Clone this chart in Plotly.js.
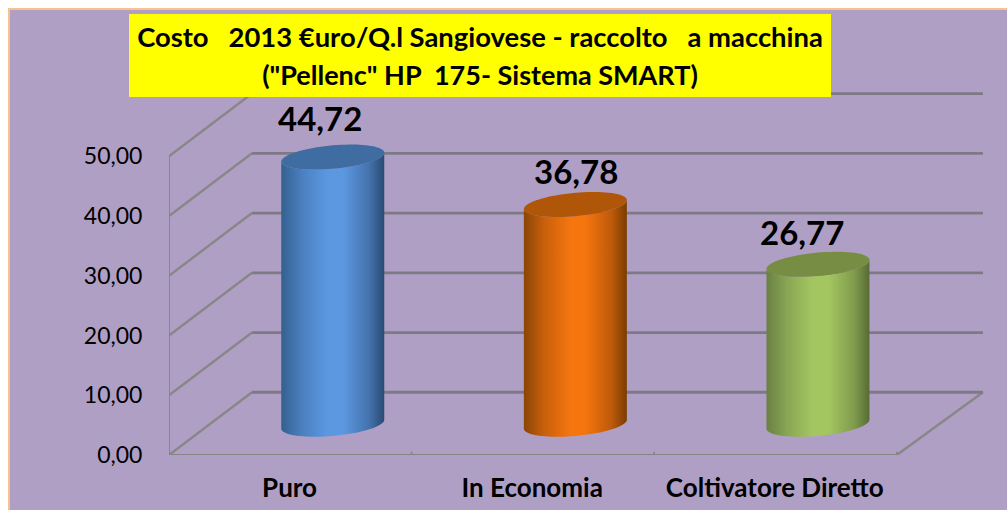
<!DOCTYPE html>
<html>
<head>
<meta charset="utf-8">
<script src="https://cdn.plot.ly/plotly-3.0.1.min.js"></script>
<style>
html,body{margin:0;padding:0;background:#fff;overflow:hidden;}
#frame{position:absolute;left:8px;top:8px;width:999px;height:502px;background:#FAC090;}
#chart{position:absolute;left:2px;top:2px;width:997px;height:500px;}
</style>
</head>
<body>
<div id="frame"><div id="chart"></div></div>
<script>
// ---- data ----
const categories = ["Puro", "In Economia", "Coltivatore Diretto"];
const values = [44.72, 36.78, 26.77];
const yTicks = [0, 10, 20, 30, 40, 50];
const titleLines = ["Costo\u00A0\u00A0\u00A02013 €uro/Q.l Sangiovese - raccolto\u00A0\u00A0\u00A0a macchina",
                    "(\"Pellenc\" HP\u00A0\u00A0175- Sistema SMART)"];

// ---- styles ----
const bodyColors = [
  [[0,"#34608F"],[0.2,"#4A80C0"],[0.45,"#5C98E0"],[0.6,"#5C98E0"],[0.85,"#4473AE"],[1,"#2A4A72"]],
  [[0,"#8A4506"],[0.2,"#C9600B"],[0.45,"#F5750E"],[0.6,"#F5750E"],[0.85,"#BE5A09"],[1,"#7A3D04"]],
  [[0,"#6A8044"],[0.2,"#88A653"],[0.45,"#A4C661"],[0.6,"#A4C661"],[0.85,"#809C4C"],[1,"#566B35"]]
];
const topColors = ["#3F6CA1", "#B05608", "#778D43"];
const labelNudge = [[-13, -39], [1, -34], [-16, -32]]; // px, value labels were hand-placed
const titleSizes = [27.4, 27];
const BG = "#B09FC5", GRID = "#7E7A85", DIAG = "#878787", AXIS = "#858585";
const FONT = "Lato, sans-serif";

// ---- pseudo-3D projection in axis units ----
const depthX = 0.342, depthY = 10.5, backRight = 3.355;
const barCentre = i => i + 0.5 + depthX / 2 + 0.004;
const midY = v => v + depthY / 2 - 0.1;
const rx = 0.2123, tiltY = 0.75, ry = 1.96;

function arc(i, v, from, to, n) {
  const xs = [], ys = [];
  for (let k = 0; k <= n; k++) {
    const t = from + (to - from) * k / n;
    xs.push(barCentre(i) + rx * Math.cos(t));
    ys.push(midY(v) + tiltY * Math.cos(t) + ry * Math.sin(t));
  }
  return [xs, ys];
}
const lineTrace = (x, y, color, width) => ({
  type: "scatter", mode: "lines", x, y, cliponaxis: false, hoverinfo: "skip", showlegend: false,
  line: {color, width, simplify: false}
});

const traces = [];
// diagonals on the side wall and floor
yTicks.forEach(v => traces.push(lineTrace([0, depthX], [v, v + depthY], DIAG, 2.4)));
traces.push(lineTrace([3, backRight], [0, depthY], DIAG, 2.4));
// back wall gridlines
yTicks.forEach(v => traces.push(lineTrace([depthX, backRight], [v + depthY, v + depthY], GRID, 2.8)));
// axis lines
traces.push(lineTrace([0, 0], [0, yTicks[yTicks.length - 1]], AXIS, 1.8));
traces.push(lineTrace([0, 3], [0, 0], AXIS, 1.8));
// tick marks
const tx = [], ty = [];
yTicks.forEach(v => { tx.push(-0.041, 0, null); ty.push(v + 0.4, v + 0.4, null); });
[0, 1, 2, 3].forEach(c => { tx.push(c, c, null); ty.push(0.55, -0.9, null); });
traces.push(lineTrace(tx, ty, AXIS, 1.6));

// cylinders
categories.forEach((c, i) => {
  const v = values[i];
  const bot = arc(i, 0, Math.PI, 2 * Math.PI, 40);
  const top = arc(i, v, 2 * Math.PI, Math.PI, 40);
  traces.push({
    type: "scatter", mode: "none", name: c, showlegend: false, hoverinfo: "skip",
    x: bot[0].concat(top[0]), y: bot[1].concat(top[1]),
    fill: "toself",
    fillgradient: {type: "horizontal", colorscale: bodyColors[i]}
  });
  const cap = arc(i, v, 0, 2 * Math.PI, 80);
  traces.push({
    type: "scatter", mode: "none", name: c + " top", showlegend: false, hoverinfo: "skip",
    x: cap[0], y: cap[1], fill: "toself", fillcolor: topColors[i]
  });
});

const plotLeft = 159, plotTop = 80, plotBottom = 55, plotRight = 17, W = 997, H = 500;
const plotW = W - plotLeft - plotRight, plotH = H - plotTop - plotBottom;
const pxX = p => (p - 10 - plotLeft) / plotW;
const pxY = p => 1 - (p - 10 - plotTop) / plotH;

const layout = {
  width: W, height: H,
  margin: {l: plotLeft, r: plotRight, t: plotTop, b: plotBottom, pad: 0},
  paper_bgcolor: BG, plot_bgcolor: "rgba(0,0,0,0)",
  separators: ",.",
  showlegend: false,
  title: {
    text: titleLines.map((t, i) => '<span style="font-size:' + titleSizes[i] + 'px">' + t + '</span>').join("<br>"),
    x: (480 - 10) / W, xanchor: "center", y: 1 - (47 - 10) / H, yanchor: "top",
    font: {family: FONT, size: 29, color: "#000", weight: 700}
  },
  xaxis: {
    type: "linear", range: [0, plotW / 242.6], showgrid: false, zeroline: false, showline: false,
    tickmode: "array", tickvals: categories.map((c, i) => i + 0.497), ticktext: categories,
    ticks: "outside", ticklen: 10, tickcolor: "rgba(0,0,0,0)",
    tickfont: {family: FONT, size: 26, color: "#000", weight: 700}, fixedrange: true
  },
  yaxis: {
    type: "linear", range: [0, plotH / 5.974], showgrid: false, zeroline: false, showline: false,
    tickmode: "array", tickvals: yTicks, tickformat: ".2f",
    ticks: "outside", ticklen: 21, tickcolor: "rgba(0,0,0,0)",
    tickfont: {family: FONT, size: 23, color: "#000"}, fixedrange: true
  },
  shapes: [{
    type: "rect", xref: "paper", yref: "paper", layer: "above",
    x0: pxX(129), x1: pxX(831), y0: pxY(97), y1: pxY(14),
    fillcolor: "#FFFF00", line: {width: 0}
  }],
  annotations: categories.map((c, i) => ({
    x: barCentre(i), y: midY(values[i]), xref: "x", yref: "y",
    text: values[i].toFixed(2).replace(".", ","), showarrow: false,
    xanchor: "center", yanchor: "middle",
    xshift: labelNudge[i][0], yshift: -labelNudge[i][1],
    font: {family: FONT, size: 33, color: "#000", weight: 700}
  }))
};

Plotly.newPlot("chart", traces, layout, {displayModeBar: false, staticPlot: true});
</script>
</body>
</html>
